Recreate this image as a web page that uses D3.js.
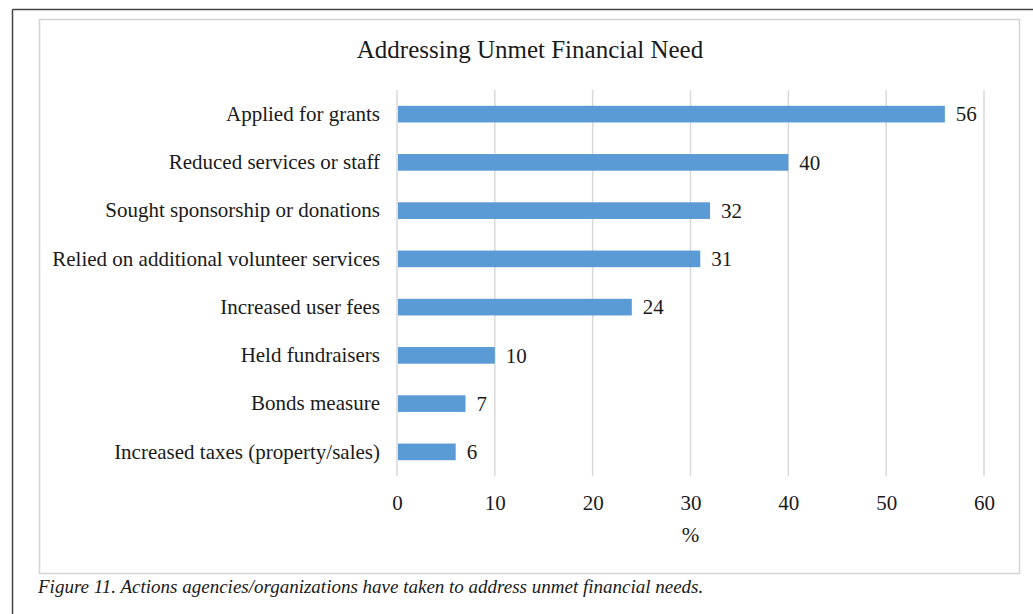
<!DOCTYPE html>
<html>
<head>
<meta charset="utf-8">
<script src="https://cdn.jsdelivr.net/npm/d3@7"></script>
<style>
  html, body { margin: 0; padding: 0; background: #fff; }
  svg { display: block; }
  text { font-family: "Liberation Serif", "Times New Roman", serif; fill: #1a1a1a; }
</style>
</head>
<body>
<svg id="chart" width="1033" height="614"></svg>
<script>
// Survey responses: share of agencies/organizations taking each action
const categories = [
  "Applied for grants",
  "Reduced services or staff",
  "Sought sponsorship or donations",
  "Relied on additional volunteer services",
  "Increased user fees",
  "Held fundraisers",
  "Bonds measure",
  "Increased taxes (property/sales)"
];
const percents = [56, 40, 32, 31, 24, 10, 7, 6];
const xTicks = [0, 10, 20, 30, 40, 50, 60];

const chartTitle = "Addressing Unmet Financial Need";
const axisTitle = "%";
const caption = "Figure 11. Actions agencies/organizations have taken to address unmet financial needs.";

const svg = d3.select("#chart");

// Page frame: dark rule along the top and left edges
svg.append("line").attr("x1", 12.5).attr("x2", 1033).attr("y1", 9.5).attr("y2", 9.5)
  .attr("stroke", "#444").attr("stroke-width", 1.5);
svg.append("line").attr("x1", 12.5).attr("x2", 12.5).attr("y1", 9.5).attr("y2", 614)
  .attr("stroke", "#444").attr("stroke-width", 1.5);

// Chart area border
svg.append("rect").attr("x", 39.5).attr("y", 19.5).attr("width", 980).attr("height", 554)
  .attr("fill", "#fff").attr("stroke", "#d4d4d4").attr("stroke-width", 1.5);

const plot = { left: 397, right: 984, top: 90, bottom: 476 };

const x = d3.scaleLinear().domain([0, 60]).range([plot.left, plot.right]);
const y = d3.scaleBand().domain(categories).range([plot.top, plot.bottom])
  .paddingInner(0.655).paddingOuter(0.3275);

// Vertical gridlines
svg.append("g").selectAll("line").data(xTicks).join("line")
  .attr("x1", d => x(d)).attr("x2", d => x(d))
  .attr("y1", plot.top).attr("y2", plot.bottom)
  .attr("stroke", "#d9d9d9").attr("stroke-width", 1.5);

// Bars
svg.append("g").selectAll("rect").data(percents).join("rect")
  .attr("x", x(0) + 1)
  .attr("y", (d, i) => y(categories[i]))
  .attr("width", d => x(d) - x(0) - 1)
  .attr("height", y.bandwidth())
  .attr("fill", "#5b9bd5");

// Value labels
svg.append("g").selectAll("text").data(percents).join("text")
  .attr("x", d => x(d) + 11)
  .attr("y", (d, i) => y(categories[i]) + y.bandwidth() / 2)
  .attr("dy", "0.35em")
  .attr("font-size", 21)
  .text(d => d);

// Category axis
const yAxis = svg.append("g")
  .attr("transform", `translate(${plot.left},0)`)
  .call(d3.axisLeft(y).tickSize(0).tickPadding(17));
yAxis.select(".domain").remove();
yAxis.selectAll("text")
  .attr("font-size", 21)
  .attr("font-family", "Liberation Serif, Times New Roman, serif")
  .attr("fill", "#1a1a1a");

// Value axis
const xAxis = svg.append("g")
  .attr("transform", `translate(0,${plot.bottom})`)
  .call(d3.axisBottom(x).tickValues(xTicks).tickSize(0).tickPadding(19));
xAxis.select(".domain").remove();
xAxis.selectAll("text")
  .attr("font-size", 21)
  .attr("font-family", "Liberation Serif, Times New Roman, serif")
  .attr("fill", "#1a1a1a");

// Axis title
svg.append("text")
  .attr("x", x(30)).attr("y", 542)
  .attr("text-anchor", "middle").attr("font-size", 21)
  .text(axisTitle);

// Chart title
svg.append("text")
  .attr("x", 530).attr("y", 58)
  .attr("text-anchor", "middle").attr("font-size", 25)
  .text(chartTitle);

// Figure caption
svg.append("text")
  .attr("x", 38).attr("y", 593)
  .attr("font-size", 19).attr("font-style", "italic")
  .attr("fill", "#000")
  .text(caption);
</script>
</body>
</html>
